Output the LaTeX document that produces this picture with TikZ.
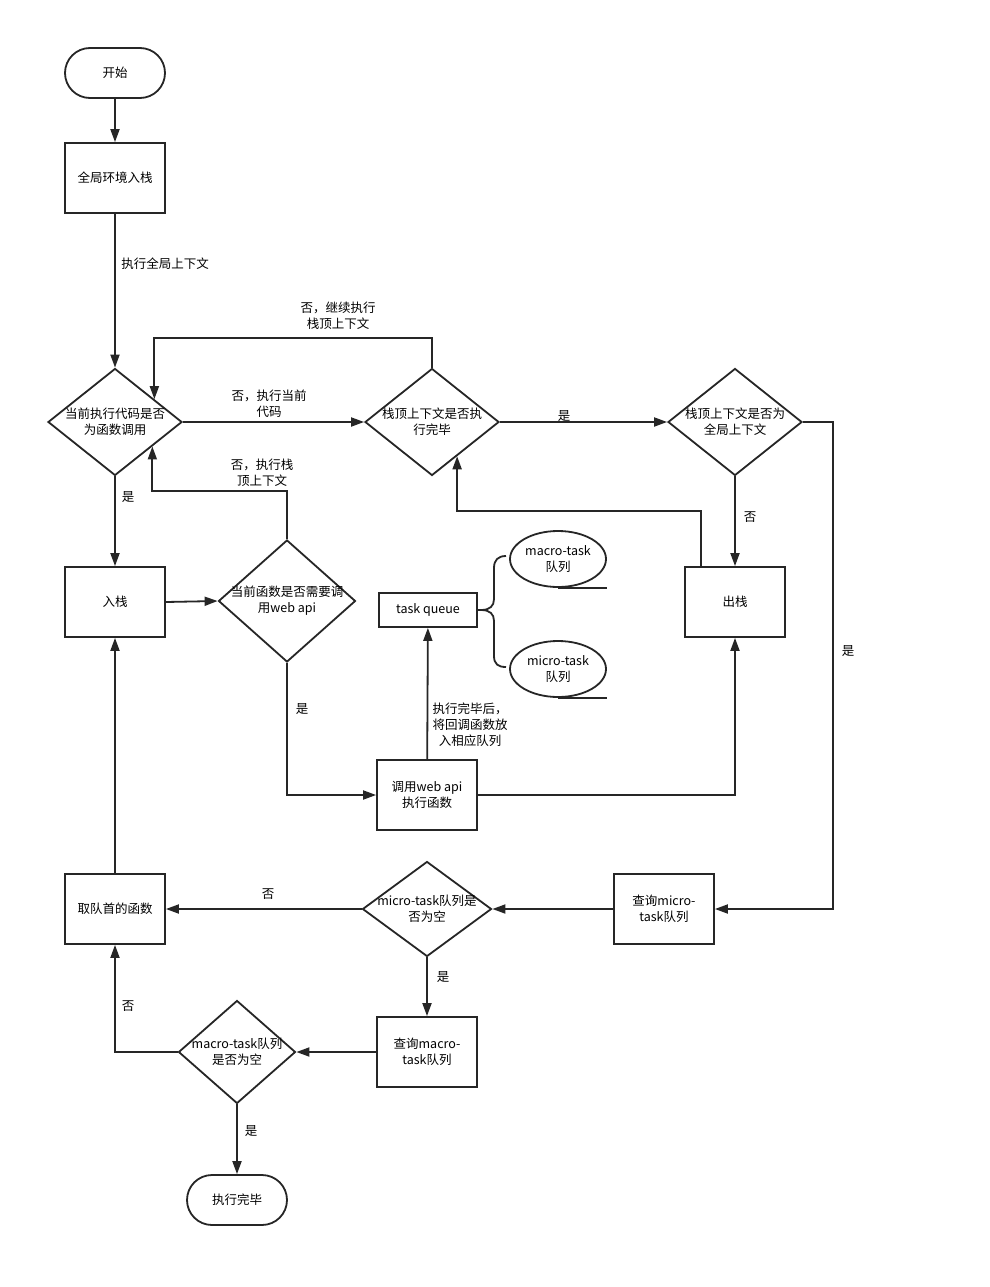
\documentclass[tikz,border=0pt]{standalone}
\usepackage{fontspec}
\setmainfont{Noto Sans CJK SC}
\usetikzlibrary{shapes.geometric, arrows.meta, calc}

\tikzset{
    base/.style={draw=black!85, line width=1.8pt, font=\fontsize{12.5}{16}\selectfont, align=center, inner sep=0pt},
    procbox/.style={base, rectangle, minimum width=100, minimum height=70},
    termbox/.style={base, rectangle, rounded corners=25pt, minimum width=100, minimum height=50},
    decide/.style={base, diamond, minimum width=134, minimum height=107},
    queuebox/.style={base, ellipse, minimum width=96, minimum height=56},
    lbl/.style={font=\fontsize{12.5}{16}\selectfont, align=center, inner sep=0pt},
    arr/.style={draw=black!85, line width=1.8pt, -{Triangle[length=13pt,width=9pt]}}
}

\begin{document}
\begin{tikzpicture}[x=1pt, y=-1pt]
        \useasboundingbox (0,0) rectangle (989,1287);
        \fill[white] (0,0) rectangle (989,1287);

        % Main flow
        \node[termbox] (start) at (115,73) {开始};
        \node[procbox] (glob) at (115,178) {全局环境入栈};
        \node[decide, label={[lbl]center:当前执行代码是否\\为函数调用}] (isfn) at (115,422) {};
        \node[decide, label={[lbl]center:栈顶上下文是否执\\行完毕}] (done) at (432,422) {};
        \node[decide, label={[lbl]center:栈顶上下文是否为\\全局上下文}] (isglob) at (735,422) {};
        \node[procbox] (push) at (115,602) {入栈};
        \node[decide, minimum width=137, minimum height=122, label={[lbl]center:当前函数是否需要调\\用web api}] (needapi) at (287,601) {};
        \node[procbox] (pop) at (735,602) {出栈};
        \node[procbox] (callapi) at (427,795) {调用web api\\执行函数};

        % Task queue
        \node[procbox, minimum width=98, minimum height=34] (tq) at (428,610) {task queue};
        \node[queuebox, label={[lbl]center:macro-task\\队列}] (macq) at (558,559) {};
        \node[queuebox, label={[lbl]center:micro-task\\队列}] (micq) at (558,669) {};
        \draw[draw=black!85, line width=2.4pt] (macq.south) -- (macq.south -| macq.east);
        \draw[draw=black!85, line width=2.4pt] (micq.south) -- (micq.south -| micq.east);
        \draw[draw=black!85, line width=1.8pt] (506,556) .. controls (498,556) and (494,560) .. (494,568) -- (494,599)
            .. controls (494,606) and (490,610) .. (481,610) .. controls (490,610) and (494,614) .. (494,621)
            -- (494,656) .. controls (494,664) and (498,667) .. (506,667);
        \coordinate (brtip) at (481,610);
        \draw[draw=black!85, line width=1.8pt] (tq.east) -- (brtip);

        % Event loop
        \node[procbox] (head) at (115,909) {取队首的函数};
        \node[decide, minimum width=129, minimum height=95, label={[lbl]center:micro-task队列是\\否为空}] (micempty) at (427,909) {};
        \node[procbox] (qmic) at (664,909) {查询micro-\\task队列};
        \node[procbox] (qmac) at (427,1052) {查询macro-\\task队列};
        \node[decide, minimum width=117, minimum height=103, label={[lbl]center:macro-task队列\\是否为空}] (macempty) at (237,1052) {};
        \node[termbox] (finish) at (237,1200) {执行完毕};

        % Connectors
        \draw[arr] (start) -- (glob);
        \draw[arr] (glob) -- (isfn);
        \draw[arr] (isfn) -- (done);
        \draw[arr] (done.north) -- ++(0,-30) -| ($(isfn.north)!0.58!(isfn.east)$);
        \draw[arr] (done) -- (isglob);
        \draw[arr] (isglob.east) -- ++(30,0) |- (qmic.east);
        \draw[arr] (isglob) -- (pop);
        \draw[arr] ($(pop.north west)+(17,0)$) -- ++(0,-55) -| ($(done.south)!0.37!(done.east)$);
        \draw[arr] (isfn) -- (push);
        \draw[arr] (push.east) -- (needapi.west);
        \draw[arr] (needapi.north) -- ++(0,-48) -| ($(isfn.south)!0.55!(isfn.east)$);
        \draw[arr] (needapi.south) |- (callapi.west);
        \draw[arr] (callapi) -- (tq);
        \draw[arr] (callapi.east) -| (pop.south);
        \draw[arr] (qmic) -- (micempty);
        \draw[arr] (micempty) -- (head);
        \draw[arr] (micempty) -- (qmac);
        \draw[arr] (qmac) -- (macempty);
        \draw[arr] (macempty.west) -| (head.south);
        \draw[arr] (macempty) -- (finish);
        \draw[arr] (head) -- (push);

        % Connector labels
        \node[lbl] (lglob) at (165,264) {执行全局上下文};
        \node[lbl] (lcont) at (338,316) {否，继续执行\\栈顶上下文};
        \node[lbl] (lrun) at (269,404) {否，执行当前\\代码};
        \node[lbl] (lstack) at (262,473) {否，执行栈\\顶上下文};
        \node[lbl] (lyes1) at (128,497) {是};
        \node[lbl] (lyes2) at (564,416) {是};
        \node[lbl] (lno1) at (750,517) {否};
        \node[lbl] (lyes3) at (848,651) {是};
        \node[lbl] (lyes4) at (302,709) {是};
        \node[lbl] (lcb) at (470,725) {执行完毕后，\\将回调函数放\\入相应队列};
        \node[lbl] (lno2) at (268,894) {否};
        \node[lbl] (lyes5) at (443,977) {是};
        \node[lbl] (lno3) at (128,1006) {否};
        \node[lbl] (lyes6) at (251,1131) {是};
    \end{tikzpicture}
\end{document}
